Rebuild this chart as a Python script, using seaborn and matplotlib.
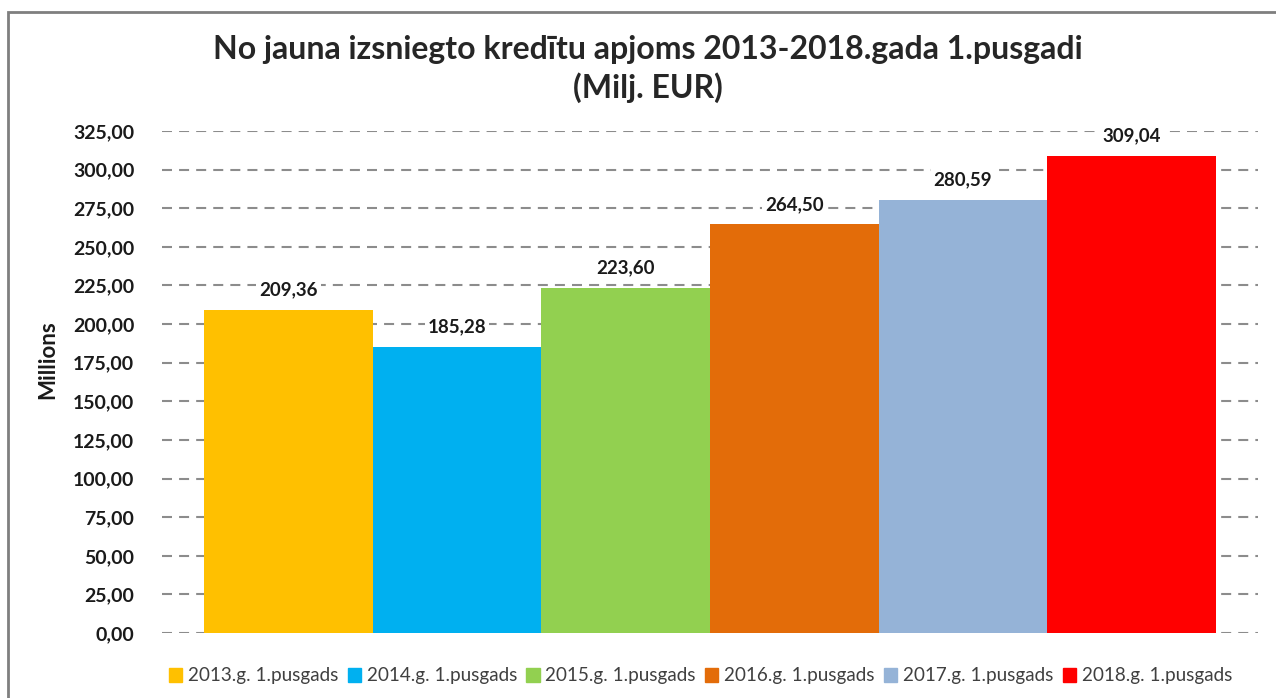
import matplotlib
matplotlib.use("Agg")
import matplotlib.pyplot as plt
import seaborn as sns
import pandas as pd
from matplotlib.patches import Rectangle

# data
periods = ['2013.g. 1.pusgads', '2014.g. 1.pusgads', '2015.g. 1.pusgads',
           '2016.g. 1.pusgads', '2017.g. 1.pusgads', '2018.g. 1.pusgads']
values = [209.36, 185.28, 223.60, 264.50, 280.59, 309.04]
colors = ['#FFC000', '#00B0F0', '#92D050', '#E36C09', '#95B3D7', '#FF0000']
yticks = list(range(0, 326, 25))

df = pd.DataFrame({'grp': [''] * len(periods), 'period': periods, 'value': values})

sns.set_theme(style="white")
plt.rcParams['font.family'] = ['Lato', 'DejaVu Sans']

fig = plt.figure(figsize=(12.76, 6.98), dpi=100)
ax = fig.add_axes([162 / 1276, 1 - 633 / 698, 1096 / 1276, 502 / 698])

sns.barplot(data=df, x='grp', y='value', hue='period', palette=colors,
            width=0.923, gap=0, dodge=True, saturation=1, ax=ax, legend=False,
            linewidth=0, zorder=2)

ax.set_ylim(0, 325)
ax.set_yticks(yticks)
ax.set_yticklabels([f"{t:.2f}".replace('.', ',') for t in yticks],
                   fontsize=14, fontweight='bold', color='#1a1a1a')
ax.tick_params(axis='y', length=0, pad=20)
ax.set_xticks([])
ax.set_xlabel('')
ax.set_ylabel('Millions', fontsize=16, fontweight='bold', color='#1a1a1a')
ax.yaxis.set_label_coords(-0.095, 0.544)
for s in ax.spines.values():
    s.set_visible(False)
ax.yaxis.grid(True, color='#8c8c8c', linewidth=1.5, linestyle=(0, (4.8, 3.4)), zorder=0)
ax.set_axisbelow(True)

# value labels
for bar, v in zip(ax.patches, values):
    ax.text(bar.get_x() + bar.get_width() / 2, v + 13, f"{v:.2f}".replace('.', ','),
            ha='center', va='center', fontsize=13.5, fontweight='bold', color='#1a1a1a',
            bbox=dict(facecolor='white', edgecolor='none', pad=2), zorder=3)

fig.text(0.508, 1 - 50 / 698, 'No jauna izsniegto kredītu apjoms 2013-2018.gada 1.pusgadi',
         ha='center', va='center', fontsize=23, fontweight='bold')
fig.text(0.508, 1 - 88 / 698, '(Milj. EUR)',
         ha='center', va='center', fontsize=23, fontweight='bold')

handles = [Rectangle((0, 0), 1, 1, color=c) for c in colors]
fig.legend(handles, periods, loc='center', bbox_to_anchor=(0.549, 1 - 676 / 698),
           ncol=6, frameon=False, fontsize=13.6, handlelength=0.7, handleheight=0.7,
           handletextpad=0.3, columnspacing=0.5, labelcolor='#404040')

# outer border
fig.patches.append(Rectangle((8 / 1276, -0.1), 1.2, 1 - 12 / 698 + 0.1,
                             transform=fig.transFigure, fill=False,
                             edgecolor='#7f7f7f', linewidth=2))

fig.savefig('out.png', dpi=100)
